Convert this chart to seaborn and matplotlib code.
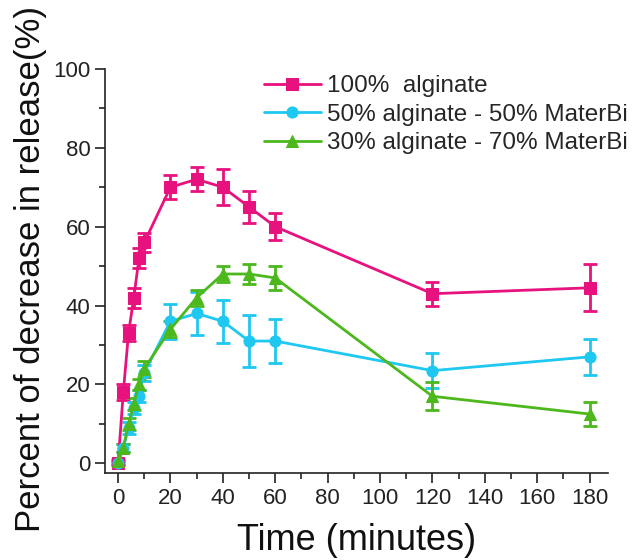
import numpy as np
import pandas as pd
import matplotlib
matplotlib.use("Agg")
import matplotlib.pyplot as plt
from matplotlib.ticker import MultipleLocator
import seaborn as sns

# time points (minutes)
time = [0, 2, 4, 6, 8, 10, 20, 30, 40, 50, 60, 120, 180]

# series values (% decrease in release)
alg100 = [0, 18, 33, 42, 52, 56, 70, 72, 70, 65, 60, 43, 44.5]
alg100_err = [0.5, 2, 2, 2.5, 2.5, 2.5, 3, 3, 4.5, 4, 3.5, 3, 6]

alg50 = [0, 4, 9, 14, 17, 23, 36, 38, 36, 31, 31, 23.5, 27]
alg50_err = [0.5, 1, 1.5, 1.5, 1.5, 2, 4.5, 5.5, 5.5, 6.5, 5.5, 4.5, 4.5]

alg30 = [0.5, 4, 10, 15, 20, 24, 34, 42, 48, 48, 47, 17, 12.5]
alg30_err = [0.5, 1, 1.5, 1.5, 1.5, 2, 2, 2, 2, 2.5, 3, 3.5, 3]

labels = ["100%  alginate", "50% alginate - 50% MaterBi", "30% alginate - 70% MaterBi"]
colors = ["#e8127f", "#1ec8f0", "#4cb81c"]
markers = ["s", "o", "^"]

sns.set_style("ticks")
plt.rcParams["font.family"] = ["Liberation Sans", "DejaVu Sans"]

fig = plt.figure(figsize=(6.4, 5.6), dpi=100)
ax = fig.add_axes([0.164, 0.155, 0.786, 0.722])

series = [(alg100, alg100_err), (alg50, alg50_err), (alg30, alg30_err)]
for (vals, errs), lab, col, mk in zip(series, labels, colors, markers):
    df = pd.DataFrame({"time": time, "value": vals})
    sns.lineplot(data=df, x="time", y="value", color=col, marker=mk,
                 markersize=8, markeredgecolor=col, linewidth=2,
                 label=lab, ax=ax, zorder=3)
    ax.errorbar(time, vals, yerr=errs, fmt="none", ecolor=col,
                elinewidth=2, capsize=5, capthick=2, zorder=2)

ax.set_xlim(-5, 187)
ax.set_ylim(-2.5, 100)
ax.xaxis.set_major_locator(MultipleLocator(20))
ax.xaxis.set_minor_locator(MultipleLocator(10))
ax.yaxis.set_major_locator(MultipleLocator(20))
ax.yaxis.set_minor_locator(MultipleLocator(10))
ax.tick_params(which="major", direction="out", length=7, width=1.2, labelsize=16, colors="#222222")
ax.tick_params(which="minor", direction="out", length=4, width=1.2, colors="#222222")
for s in ["top", "right"]:
    ax.spines[s].set_visible(False)
for s in ["left", "bottom"]:
    ax.spines[s].set_linewidth(1.2)
    ax.spines[s].set_color("#222222")
ax.spines["left"].set_bounds(-2.5, 100)

ax.set_xlabel("Time (minutes)", fontsize=26, labelpad=10, color="#111111")
ax.set_ylabel("Percent of decrease in release(%)", fontsize=25, color="#111111")
ax.yaxis.set_label_coords(-0.115, 0.505)

leg = ax.legend(loc="upper left", bbox_to_anchor=(0.412, 0.866),
                bbox_transform=fig.transFigure, frameon=False,
                fontsize=17.5, handlelength=2.35, handletextpad=0.25,
                labelspacing=0.27, borderaxespad=0, borderpad=0)

fig.savefig("out.png", dpi=100)
